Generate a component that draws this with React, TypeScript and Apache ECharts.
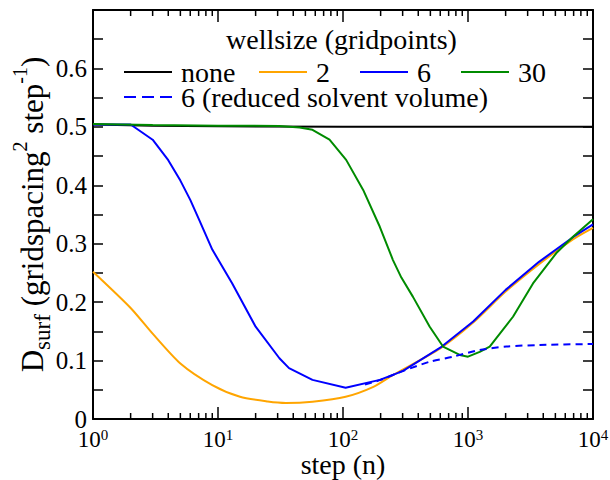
import React, { useEffect, useRef } from 'react';
import * as echarts from 'echarts';

const FONT = 'Liberation Serif';

// x tick labels (powers of ten) and minor tick multipliers
const X_DECADES = [1, 10, 100, 1000];
const X_MINOR_MULTIPLIERS = [2, 3, 4, 5, 6, 7, 8, 9];

const LEGEND_TITLE = 'wellsize (gridpoints)';
const NAME_NONE = 'none';
const NAME_2 = '2';
const NAME_6 = '6';
const NAME_30 = '30';
const NAME_RED = '6 (reduced solvent volume)';

const stepsNone = [1, 3, 10, 100, 1000, 10000];
const valuesNone = [0.504, 0.502, 0.501, 0.5, 0.5, 0.5];

const steps2 = [1, 2, 3, 5, 9, 15, 25, 35, 57, 105, 175, 250, 600, 1100, 2000, 3700, 7000, 10000];
const values2 = [0.252, 0.19, 0.146, 0.095, 0.058, 0.038, 0.03, 0.0275, 0.0297, 0.038, 0.055, 0.075, 0.121, 0.165, 0.218, 0.265, 0.308, 0.327];

const steps6 = [1, 2, 3, 4, 5, 6, 7, 9, 13, 20, 31, 37, 57, 105, 197, 300, 600, 1100, 2000, 3700, 7000, 10000];
const values6 = [0.504, 0.504, 0.478, 0.443, 0.408, 0.375, 0.343, 0.29, 0.232, 0.158, 0.104, 0.087, 0.067, 0.0535, 0.067, 0.082, 0.122, 0.167, 0.221, 0.269, 0.312, 0.333];

const steps30 = [1, 3, 10, 31, 45, 57, 78, 106, 145, 197, 251, 293, 363, 494, 631, 859, 1000, 1241, 1492, 2291, 3311, 5093, 6918, 10000];
const values30 = [0.505, 0.503, 0.502, 0.5015, 0.499, 0.495, 0.478, 0.4435, 0.392, 0.329, 0.272, 0.242, 0.209, 0.158, 0.124, 0.1096, 0.1067, 0.115, 0.124, 0.175, 0.232, 0.284, 0.312, 0.342];

const stepsReduced = [150, 200, 300, 494, 759, 1241, 2028, 3748, 10000];
const valuesReduced = [0.059, 0.067, 0.082, 0.098, 0.1067, 0.118, 0.124, 0.1267, 0.1284];

const COLORS = { none: '#000000', two: '#ffa500', six: '#0000ff', thirty: '#008b00' };

const pairs = (xs: number[], ys: number[]) => xs.map((x, i) => [x, ys[i]]);

export default function App() {
  const ref = useRef<HTMLDivElement>(null);
  useEffect(() => {
    if (!ref.current) return;
    const chart = echarts.init(ref.current, null, { renderer: 'svg' });
    const minorTickSteps = X_DECADES.flatMap((d) => X_MINOR_MULTIPLIERS.map((m) => m * d));

    const axisLine = { show: true, onZero: false, lineStyle: { color: '#000', width: 2 } };
    const tickStyle = { color: '#000', width: 1.5 };

    const xBase: any = {
      type: 'log',
      logBase: 10,
      min: 1,
      max: 10000,
      axisLine,
      axisTick: { show: true, inside: true, length: 12, lineStyle: tickStyle },
      splitLine: { show: false },
      minorTick: { show: false },
      minorSplitLine: { show: false },
    };
    const yBase: any = {
      type: 'value',
      min: 0,
      max: 0.7,
      interval: 0.05,
      axisLine,
      axisTick: { show: true, inside: true, length: 10, lineStyle: tickStyle },
      splitLine: { show: false },
    };

    const solidIcon = 'path://M0,0H48V2H0Z';
    const dashIcon = 'path://M0,0H12V2H0Z M18,0H30V2H18Z M36,0H48V2H36Z';
    const legendBase: any = {
      orient: 'horizontal',
      padding: 0,
      itemWidth: 48,
      itemHeight: 2,
      itemGap: 0,
      selectedMode: false,
      textStyle: { fontFamily: FONT, fontSize: 28, lineHeight: 22, color: '#000', padding: [0, 0, 0, 4] },
    };

    const lineSeries = (name: string, xs: number[], ys: number[], color: string, dashed = false, smooth: any = false) => ({
      name,
      type: 'line',
      data: pairs(xs, ys),
      symbol: 'none',
      smooth,
      lineStyle: { color, width: 2, type: dashed ? [7, 5] : 'solid' },
      itemStyle: { color },
      clip: true,
    });

    chart.setOption({
      animation: false,
      backgroundColor: '#ffffff',
      textStyle: { fontFamily: FONT },
      title: {
        text: LEGEND_TITLE,
        left: 226,
        top: 27,
        padding: 0,
        textStyle: { fontFamily: FONT, fontSize: 28, lineHeight: 24, fontWeight: 'normal', color: '#000' },
      },
      legend: [
        { ...legendBase, data: [{ name: NAME_NONE, icon: solidIcon }], left: 124, top: 58 },
        { ...legendBase, data: [{ name: NAME_2, icon: solidIcon }], left: 259, top: 58 },
        { ...legendBase, data: [{ name: NAME_6, icon: solidIcon }], left: 360, top: 58 },
        { ...legendBase, data: [{ name: NAME_30, icon: solidIcon }], left: 461, top: 58 },
        { ...legendBase, data: [{ name: NAME_RED, icon: dashIcon }], left: 124, top: 83 },
      ],
      grid: { left: 93, right: 17, top: 10, bottom: 61, containLabel: false, outerBoundsMode: 'none' },
      xAxis: [
        {
          ...xBase,
          position: 'bottom',
          axisLabel: {
            show: true,
            margin: 8,
            formatter: (v: number) => `{b|10}{e|${Math.round(Math.log10(v))}}`,
            rich: {
              b: { fontFamily: FONT, fontSize: 23, lineHeight: 24, color: '#000' },
              e: { fontFamily: FONT, fontSize: 15, lineHeight: 15, verticalAlign: 'top', color: '#000' },
            },
          },
          name: 'step (n)',
          nameLocation: 'middle',
          nameGap: 32,
          nameMoveOverlap: false,
          nameTextStyle: { fontFamily: FONT, fontSize: 28, lineHeight: 26, color: '#000' },
        },
        { ...xBase, position: 'top', axisLabel: { show: false } },
      ],
      yAxis: [
        {
          ...yBase,
          position: 'left',
          axisLabel: {
            show: true,
            margin: 6,
            fontFamily: FONT,
            fontSize: 25,
            color: '#000',
            formatter: (v: number) => {
              const k = Math.round(v * 100);
              if (k % 10 !== 0 || k === 70) return '';
              return k === 0 ? '0' : (k / 100).toFixed(1);
            },
          },
          name: '{m|D}{sub|surf}{m| (gridspacing}{sup|2}{m| step}{sup|-1}{m|)}',
          nameLocation: 'middle',
          nameRotate: 90,
          nameGap: 39,
          nameMoveOverlap: false,
          nameTextStyle: {
            fontFamily: FONT,
            color: '#000',
            rich: {
              m: { fontFamily: FONT, fontSize: 31, lineHeight: 44, color: '#000' },
              sub: { fontFamily: FONT, fontSize: 23, lineHeight: 30, verticalAlign: 'bottom', color: '#000' },
              sup: { fontFamily: FONT, fontSize: 20, lineHeight: 20, verticalAlign: 'top', color: '#000' },
            },
          },
        },
        { ...yBase, position: 'right', axisLabel: { show: false } },
      ],
      series: [
        lineSeries(NAME_NONE, stepsNone, valuesNone, COLORS.none),
        lineSeries(NAME_2, steps2, values2, COLORS.two, false, 0.25),
        lineSeries(NAME_6, steps6, values6, COLORS.six),
        lineSeries(NAME_30, steps30, values30, COLORS.thirty),
        lineSeries(NAME_RED, stepsReduced, valuesReduced, COLORS.six, true, 0.25),
        {
          type: 'custom',
          xAxisIndex: 0,
          yAxisIndex: 0,
          silent: true,
          clip: false,
          z: 10,
          data: minorTickSteps.map((s) => [s, 0]),
          renderItem: (_params: any, api: any) => {
            const x = api.value(0);
            const b = api.coord([x, 0]);
            const t = api.coord([x, 0.7]);
            return {
              type: 'group',
              children: [
                { type: 'line', shape: { x1: b[0], y1: b[1], x2: b[0], y2: b[1] - 6 }, style: { stroke: '#000', lineWidth: 1.5 } },
                { type: 'line', shape: { x1: t[0], y1: t[1], x2: t[0], y2: t[1] + 6 }, style: { stroke: '#000', lineWidth: 1.5 } },
              ],
            };
          },
        },
      ],
    });
    return () => chart.dispose();
  }, []);
  return <div ref={ref} style={{ position: 'absolute', left: 0, top: 0, width: 610, height: 480 }} />;
}
